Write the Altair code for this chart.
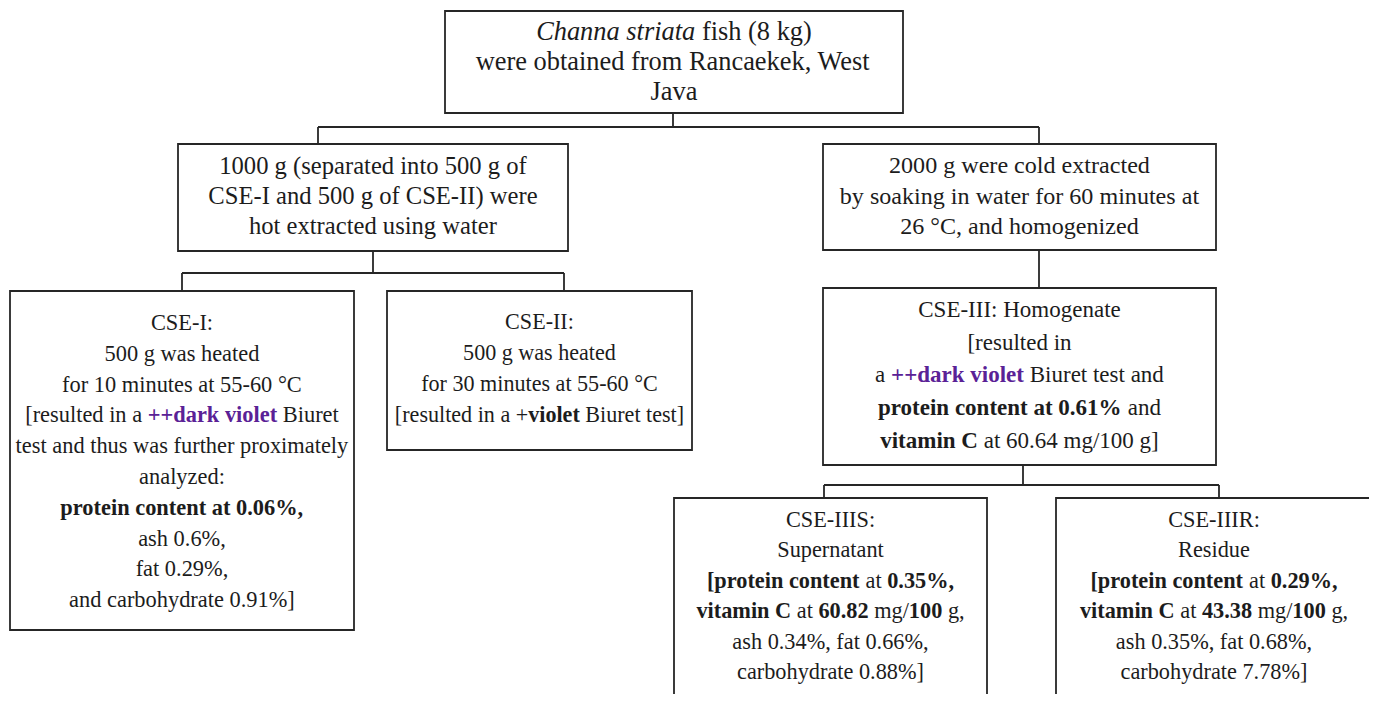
import altair as alt
import pandas as pd

# ---------------- text content (markup: *bold*, _italic_, ~bold violet~) -------------
TOP_TEXT = ["_Channa striata_ fish (8 kg)",
            "were obtained from Rancaekek, West",
            "Java"]
HOT_TEXT = ["1000 g (separated into 500 g of",
            "CSE-I and 500 g of CSE-II) were",
            "hot extracted using water"]
COLD_TEXT = ["2000 g were cold extracted",
             "by soaking in water for 60 minutes at",
             "26 °C, and homogenized"]
CSE1_TEXT = ["CSE-I:",
             "500 g was heated",
             "for 10 minutes at 55-60 °C",
             "[resulted in a ~++dark violet~ Biuret",
             "test and thus was further proximately",
             "analyzed:",
             "*protein content at 0.06%,*",
             "ash 0.6%,",
             "fat 0.29%,",
             "and carbohydrate 0.91%]"]
CSE2_TEXT = ["CSE-II:",
             "500 g was heated",
             "for 30 minutes at 55-60 °C",
             "[resulted in a +*violet* Biuret test]"]
CSE3_TEXT = ["CSE-III: Homogenate",
             "[resulted in",
             "a ~++dark violet~ Biuret test and",
             "*protein content at 0.61%* and",
             "*vitamin C* at 60.64 mg/100 g]"]
CSE3S_TEXT = ["CSE-IIIS:",
              "Supernatant",
              "*[protein content* at *0.35%,*",
              "*vitamin C* at *60.82* mg/*100* g,",
              "ash 0.34%, fat 0.66%,",
              "carbohydrate 0.88%]"]
CSE3R_TEXT = ["CSE-IIIR:",
              "Residue",
              "*[protein content* at *0.29%,*",
              "*vitamin C* at *43.38* mg/*100* g,",
              "ash 0.35%, fat 0.68%,",
              "carbohydrate 7.78%]"]

# ---------------- layout (pixel frame of the figure) ----------------
BOXES = [
    # name, x, x2, y, y2, fontsize, first line y, line step, lines
    ("top",   445, 903, 11, 113, 26.4, 32, 30.0, TOP_TEXT),
    ("hot",   178, 568, 144, 251, 24.6, 167, 30.0, HOT_TEXT),
    ("cold",  823, 1216, 144, 250, 24.1, 166, 30.5, COLD_TEXT),
    ("cse1",  10, 354, 291, 630, 22.4, 323, 30.8, CSE1_TEXT),
    ("cse2",  387, 692, 291, 450, 22.1, 322, 31.0, CSE2_TEXT),
    ("cse3",  823, 1216, 288, 465, 23.0, 310, 32.7, CSE3_TEXT),
    ("cse3s", 674, 987, 498, 740, 22.3, 520, 30.4, CSE3S_TEXT),
    ("cse3r", 1056, 1372, 498, 740, 22.3, 520, 30.4, CSE3R_TEXT),
]
CONNECTORS = [
    (673, 113, 673, 127), (318, 127, 1039, 127), (318, 127, 318, 144), (1039, 127, 1039, 144),
    (373, 251, 373, 273), (182, 273, 564, 273), (182, 273, 182, 291), (564, 273, 564, 291),
    (1039, 250, 1039, 288),
    (1023, 465, 1023, 485), (824, 485, 1219, 485), (824, 485, 824, 498), (1219, 485, 1219, 498),
]

INK = "#1c1c1c"
VIOLET = "#5a2196"

# Times / Liberation Serif advance widths (1/1000 em)
REG = {" ": 250, "(": 333, ")": 333, "+": 564, ",": 250, "-": 333, ".": 250, "/": 278, ":": 278,
       "%": 833, "[": 333, "]": 333, "°": 400,
       "A": 722, "B": 667, "C": 667, "D": 722, "E": 611, "F": 556, "G": 722, "H": 722, "I": 333,
       "J": 389, "K": 722, "L": 611, "M": 889, "N": 722, "O": 722, "P": 556, "Q": 722, "R": 667,
       "S": 556, "T": 611, "U": 722, "V": 722, "W": 944, "X": 722, "Y": 722, "Z": 611,
       "a": 444, "b": 500, "c": 444, "d": 500, "e": 444, "f": 333, "g": 500, "h": 500, "i": 278,
       "j": 278, "k": 500, "l": 278, "m": 778, "n": 500, "o": 500, "p": 500, "q": 500, "r": 333,
       "s": 389, "t": 278, "u": 500, "v": 500, "w": 722, "x": 500, "y": 500, "z": 444}
BOLD = {" ": 250, "(": 333, ")": 333, "+": 570, ",": 250, "-": 333, ".": 250, "/": 278, ":": 333,
        "%": 1000, "[": 333, "]": 333, "°": 400,
        "A": 722, "B": 667, "C": 722, "D": 722, "E": 667, "F": 611, "G": 778, "H": 778, "I": 389,
        "R": 722, "S": 556, "V": 722, "W": 1000,
        "a": 500, "b": 556, "c": 444, "d": 556, "e": 444, "f": 333, "g": 500, "h": 556, "i": 278,
        "j": 333, "k": 556, "l": 278, "m": 833, "n": 556, "o": 500, "p": 556, "q": 556, "r": 444,
        "s": 389, "t": 333, "u": 556, "v": 500, "w": 722, "x": 500, "y": 500, "z": 444}
ITAL = {" ": 250, "C": 667, "a": 500, "h": 500, "n": 500, "s": 389, "t": 278, "r": 389, "i": 278,
        "e": 444, "o": 500}
for d in (REG, BOLD, ITAL):
    for ch in "0123456789":
        d[ch] = 500


def parse(line):
    segs, cur, b, it, p = [], "", False, False, False
    for ch in line:
        if ch in "*_~":
            if cur:
                segs.append((cur, b, it, p))
            cur = ""
            if ch == "*":
                b = not b
            elif ch == "_":
                it = not it
            else:
                p = not p
        else:
            cur += ch
    if cur:
        segs.append((cur, b, it, p))
    return segs


def adv(s, bold, ital):
    tab = BOLD if bold else (ITAL if ital else REG)
    return sum(tab.get(c, 500) for c in s) / 1000.0


rects, rules, texts = [], [], []
for name, x, x2, y, y2, fs, y0, dy, lines in BOXES:
    rects.append(dict(x=x, x2=x2, y=y, y2=y2))
    cx = (x + x2) / 2.0
    for k, line in enumerate(lines):
        segs = parse(line)
        total = sum(adv(s, b or p, it) for s, b, it, p in segs) * fs
        pos = cx - total / 2.0
        ly = y0 + k * dy
        for s, b, it, p in segs:
            bold = b or p
            lead = len(s) - len(s.lstrip(" "))
            body = s.strip(" ")
            if body:
                texts.append(dict(x=pos + lead * 0.25 * fs, y=ly, t=body, fs=fs,
                                  c=VIOLET if p else INK,
                                  st="bold" if bold else ("italic" if it else "normal")))
            pos += adv(s, bold, it) * fs
for a, b, c, d in CONNECTORS:
    rules.append(dict(x=a, y=b, x2=c, y2=d))

rect_df = pd.DataFrame(rects)
rule_df = pd.DataFrame(rules)
text_df = pd.DataFrame(texts)

XS = alt.Scale(domain=[8, 1369], nice=False, zero=False)
YS = alt.Scale(domain=[8, 694], nice=False, zero=False, reverse=True)
X = alt.X("x:Q", scale=XS, axis=None)
Y = alt.Y("y:Q", scale=YS, axis=None)

boxes = alt.Chart(rect_df).mark_rect(fill="white", stroke="#262626", strokeWidth=1.8, clip=True).encode(
    x=X, x2="x2:Q", y=Y, y2="y2:Q")
lines_layer = alt.Chart(rule_df).mark_rule(color="#262626", strokeWidth=1.8).encode(
    x=X, x2="x2:Q", y=Y, y2="y2:Q")

layers = [boxes, lines_layer]
for st in ["normal", "bold", "italic"]:
    sub = text_df[text_df["st"] == st]
    if len(sub) == 0:
        continue
    layers.append(
        alt.Chart(sub).mark_text(
            align="left", baseline="middle", font="Liberation Serif",
            fontWeight="bold" if st == "bold" else "normal",
            fontStyle="italic" if st == "italic" else "normal",
        ).encode(
            x=X, y=Y, text="t:N",
            size=alt.Size("fs:Q", scale=None, legend=None),
            color=alt.Color("c:N", scale=None, legend=None),
        )
    )

chart = alt.layer(*layers).properties(width=1361, height=686, padding=0,
                                      background="white").configure_view(stroke=None)
chart.save("out.html", embed_options={"renderer": "svg", "actions": False})
